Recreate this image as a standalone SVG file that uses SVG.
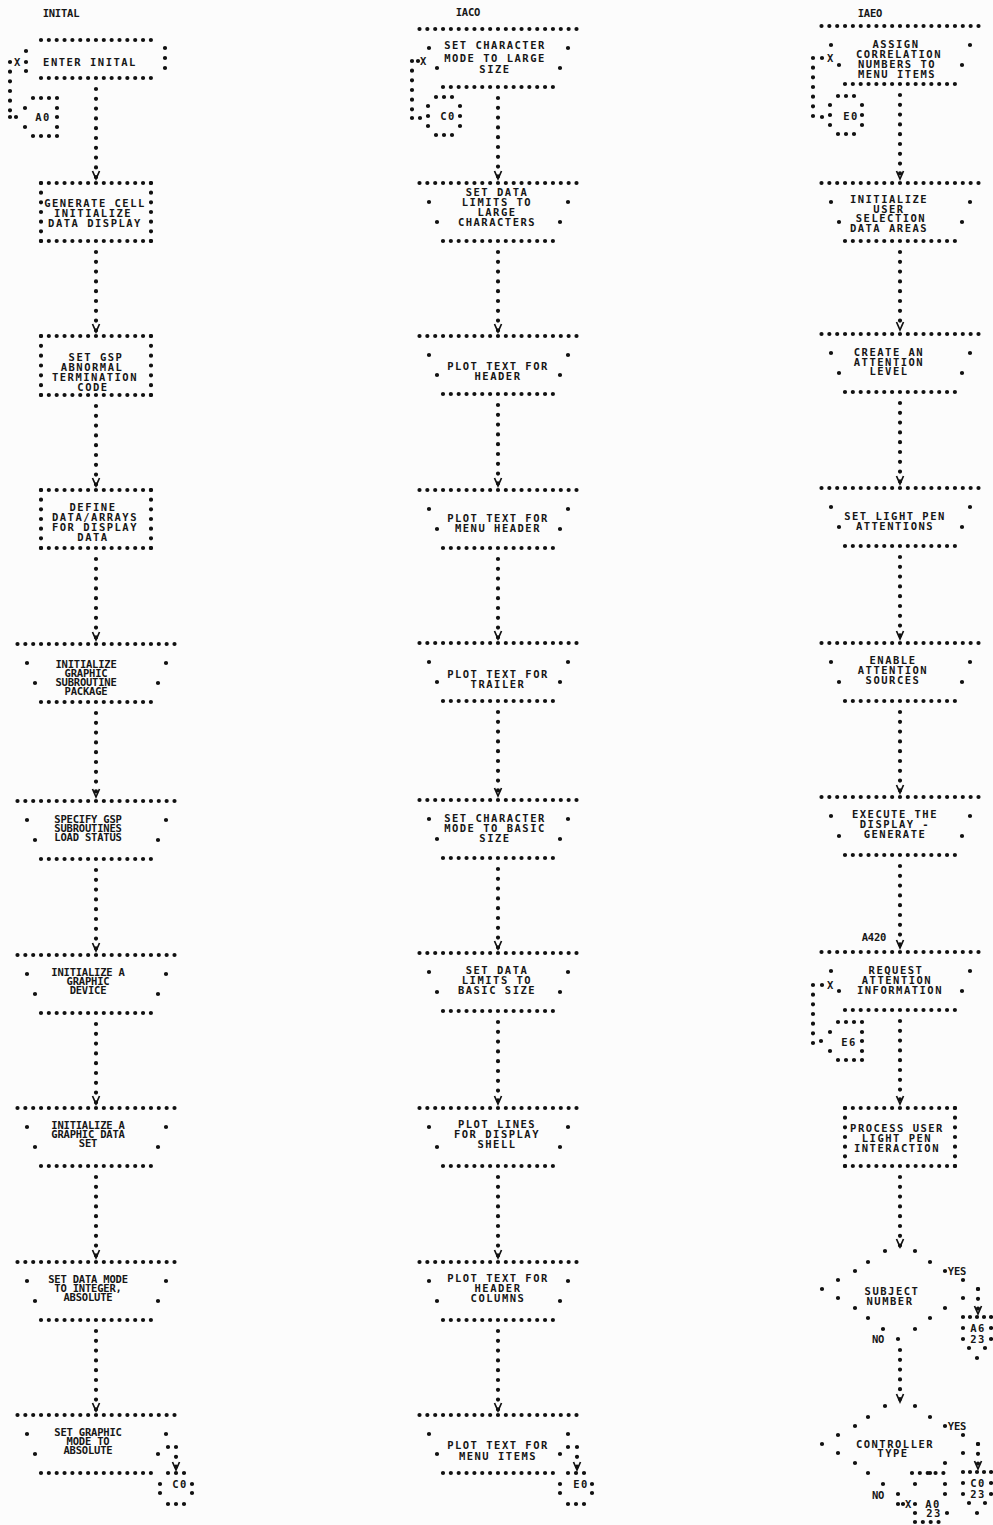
<svg xmlns="http://www.w3.org/2000/svg" width="993" height="1525" viewBox="0 0 993 1525">
<style>
.t{font-family:"DejaVu Sans Mono","Liberation Mono",monospace;font-size:10.5px;font-weight:bold;letter-spacing:1.5px;fill:#161616;text-anchor:middle;dominant-baseline:central}
.n{font-family:"DejaVu Sans Mono","Liberation Mono",monospace;font-size:10.5px;font-weight:bold;letter-spacing:-0.2px;fill:#161616;text-anchor:middle;dominant-baseline:central}
.h{fill:none;stroke:#111;stroke-width:4.2;stroke-linecap:round;stroke-dasharray:0 7.85}
.s{fill:none;stroke:#111;stroke-width:4.2;stroke-linecap:round;stroke-dasharray:0 9.667}
.p{fill:none;stroke:#111;stroke-width:4.2;stroke-linecap:round}
.v{fill:none;stroke:#111;stroke-width:4.2;stroke-linecap:round;stroke-dasharray:0 9.8;marker-end:url(#arr)}
</style>
<defs>
<marker id="arr" markerUnits="userSpaceOnUse" markerWidth="10" markerHeight="10" refX="8" refY="4" orient="auto" overflow="visible"><path d="M0,0.5L8,4L0,7.5" fill="none" stroke="#111" stroke-width="1.7" stroke-dasharray="none"/></marker>
<g id="trap"><path class="h" d="M-78.5,0h157.1M-55,58h110.1"/><path class="p" d="M-69,19h.01M-61,39h.01M70,19h.01M62,39h.01"/></g>
<g id="rect"><path class="h" d="M-55,0h110.1M-55,58h110.1"/><path class="s" d="M-55,0v58.1M55,0v58.1"/></g>
<g id="rect59"><path class="h" d="M-55,0h110.1M-55,59h110.1"/><path class="s" d="M-55,0v59.1M55,0v59.1" style="stroke-dasharray:0 9.833"/></g>
<path id="cx" class="p" d="M-8,-15.5h.01M0,-15.5h.01M8,-15.5h.01M-16,-4.5h.01M16,-4.5h.01M-16,4.5h.01M16,4.5h.01M-8,15.5h.01M0,15.5h.01M8,15.5h.01"/>
<path id="ce" class="p" d="M-8,-19h.01M0,-19h.01M8,-19h.01M-16,-10h.01M16,-10h.01M-16,0h.01M16,0h.01M-16,10h.01M16,10h.01M-8,19h.01M0,19h.01M8,19h.01"/>
<path id="cp" class="p" d="M-7,-19h.01M1,-19h.01M9,-19h.01M17,-19h.01M-15,-9h.01M-24,0h.01M-15,10h.01M17,-9h.01M17,0h.01M17,10h.01M-7,19h.01M1,19h.01M9,19h.01M17,19h.01"/>
<path id="cq" class="p" d="M-14,0h.01M-7,0h.01M0,0h.01M7,0h.01M14,0h.01M-14,11h.01M14,11h.01M-14,22h.01M14,22h.01M-8,31h.01M8,31h.01M0,41h.01"/>
<path id="dia" class="p" d="M-15,-38h.01M15,-38h.01M-32,-27h.01M30,-27h.01M-45,-18h.01M45,-18h.01M-62,-9h.01M63,-9h.01M-78,0h.01M78,0h.01M-62,9h.01M63,9h.01M-45,19h.01M45,19h.01M-32,29h.01M30,29h.01M-17,40h.01M15,40h.01M-2,50h.01"/>
</defs>
<rect width="993" height="1525" fill="#fcfcfc"/>

<g id="titles">
<text class="n" x="61" y="13">INITAL</text>
<text class="n" x="468" y="12">IACO</text>
<text class="n" x="870" y="13">IAEO</text>
</g>

<!-- Column 1 -->
<g id="n-enter-inital">
<path class="h" d="M41,40h110.1M41,78h110.1"/>
<path class="p" d="M26,51h.01M26,62h.01M26,71h.01M165,48h.01M165,58h.01M165,68h.01"/>
<text class="t" x="90" y="62">ENTER INITAL</text>
</g>
<g id="n-generate-cell"><use href="#rect" x="96" y="183"/>
<text class="t" x="95" y="203">GENERATE CELL</text><text class="t" x="93" y="213">INITIALIZE</text><text class="t" x="95" y="223">DATA DISPLAY</text></g>
<g id="n-set-gsp"><use href="#rect59" x="96" y="336"/>
<text class="t" x="96" y="357">SET GSP</text><text class="t" x="92" y="367">ABNORMAL</text><text class="t" x="95" y="377">TERMINATION</text><text class="t" x="93" y="386.5">CODE</text></g>
<g id="n-define-data"><use href="#rect" x="96" y="490"/>
<text class="t" x="93" y="507">DEFINE</text><text class="t" x="95" y="517">DATA/ARRAYS</text><text class="t" x="95" y="527">FOR DISPLAY</text><text class="t" x="93" y="536.5">DATA</text></g>
<g id="n-init-gsp"><use href="#trap" x="96" y="644"/>
<text class="n" x="86" y="664">INITIALIZE</text><text class="n" x="86" y="673">GRAPHIC</text><text class="n" x="86" y="682">SUBROUTINE</text><text class="n" x="86" y="691">PACKAGE</text></g>
<g id="n-specify-gsp"><use href="#trap" x="96" y="801"/>
<text class="n" x="88" y="819">SPECIFY GSP</text><text class="n" x="88" y="828">SUBROUTINES</text><text class="n" x="88" y="837">LOAD STATUS</text></g>
<g id="n-init-device"><use href="#trap" x="96" y="955"/>
<text class="n" x="88" y="972">INITIALIZE A</text><text class="n" x="88" y="981">GRAPHIC</text><text class="n" x="88" y="990">DEVICE</text></g>
<g id="n-init-dataset"><use href="#trap" x="96" y="1108"/>
<text class="n" x="88" y="1125">INITIALIZE A</text><text class="n" x="88" y="1134">GRAPHIC DATA</text><text class="n" x="88" y="1143">SET</text></g>
<g id="n-set-data-mode"><use href="#trap" x="96" y="1262"/>
<text class="n" x="88" y="1279">SET DATA MODE</text><text class="n" x="88" y="1288">TO INTEGER,</text><text class="n" x="88" y="1297">ABSOLUTE</text></g>
<g id="n-set-graphic-mode"><use href="#trap" x="96" y="1415"/>
<text class="n" x="88" y="1432">SET GRAPHIC</text><text class="n" x="88" y="1441">MODE TO</text><text class="n" x="88" y="1450">ABSOLUTE</text></g>
<g id="k-a0-in"><use href="#cp" x="40" y="117"/><text class="t" x="43" y="117">A0</text></g>
<g id="k-c0-out"><use href="#cx" x="176" y="1488.5"/><text class="t" x="180" y="1484">C0</text></g>

<!-- Column 2 -->
<g id="n-char-large"><use href="#trap" x="498" y="29"/>
<text class="t" x="495" y="45">SET CHARACTER</text><text class="t" x="495" y="58">MODE TO LARGE</text><text class="t" x="495" y="69">SIZE</text></g>
<g id="n-limits-large"><use href="#trap" x="498" y="183"/>
<text class="t" x="497" y="192">SET DATA</text><text class="t" x="497" y="202">LIMITS TO</text><text class="t" x="497" y="212">LARGE</text><text class="t" x="497" y="222">CHARACTERS</text></g>
<g id="n-text-header"><use href="#trap" x="498" y="336"/>
<text class="t" x="498" y="366">PLOT TEXT FOR</text><text class="t" x="498" y="376">HEADER</text></g>
<g id="n-text-menu-header"><use href="#trap" x="498" y="490"/>
<text class="t" x="498" y="518">PLOT TEXT FOR</text><text class="t" x="498" y="528">MENU HEADER</text></g>
<g id="n-text-trailer"><use href="#trap" x="498" y="643"/>
<text class="t" x="498" y="674">PLOT TEXT FOR</text><text class="t" x="498" y="684">TRAILER</text></g>
<g id="n-char-basic"><use href="#trap" x="498" y="800"/>
<text class="t" x="495" y="818">SET CHARACTER</text><text class="t" x="495" y="828">MODE TO BASIC</text><text class="t" x="495" y="838">SIZE</text></g>
<g id="n-limits-basic"><use href="#trap" x="498" y="953"/>
<text class="t" x="497" y="970">SET DATA</text><text class="t" x="497" y="980">LIMITS TO</text><text class="t" x="497" y="990">BASIC SIZE</text></g>
<g id="n-plot-lines"><use href="#trap" x="498" y="1108"/>
<text class="t" x="497" y="1124">PLOT LINES</text><text class="t" x="497" y="1134">FOR DISPLAY</text><text class="t" x="497" y="1144">SHELL</text></g>
<g id="n-text-columns"><use href="#trap" x="498" y="1262"/>
<text class="t" x="498" y="1278">PLOT TEXT FOR</text><text class="t" x="498" y="1288">HEADER</text><text class="t" x="498" y="1298">COLUMNS</text></g>
<g id="n-text-menu-items"><use href="#trap" x="498" y="1415"/>
<text class="t" x="498" y="1445">PLOT TEXT FOR</text><text class="t" x="498" y="1456">MENU ITEMS</text></g>
<g id="k-c0-in"><use href="#ce" x="444" y="116"/><text class="t" x="448" y="116">C0</text></g>
<g id="k-e0-out"><use href="#cx" x="576" y="1488.5"/><text class="t" x="581" y="1484">E0</text></g>

<!-- Column 3 -->
<g id="n-assign"><use href="#trap" x="900" y="26"/>
<text class="t" x="896" y="44">ASSIGN</text><text class="t" x="899" y="54">CORRELATION</text><text class="t" x="897" y="64">NUMBERS TO</text><text class="t" x="897" y="74">MENU ITEMS</text></g>
<g id="n-init-user"><use href="#trap" x="900" y="183"/>
<text class="t" x="889" y="199">INITIALIZE</text><text class="t" x="889" y="208.5">USER</text><text class="t" x="891" y="218">SELECTION</text><text class="t" x="889" y="227.5">DATA AREAS</text></g>
<g id="n-create-level"><use href="#trap" x="900" y="334"/>
<text class="t" x="889" y="352">CREATE AN</text><text class="t" x="889" y="361.5">ATTENTION</text><text class="t" x="889" y="371">LEVEL</text></g>
<g id="n-light-pen"><use href="#trap" x="900" y="488"/>
<text class="t" x="895" y="516">SET LIGHT PEN</text><text class="t" x="895" y="526">ATTENTIONS</text></g>
<g id="n-enable"><use href="#trap" x="900" y="643"/>
<text class="t" x="893" y="660">ENABLE</text><text class="t" x="893" y="670">ATTENTION</text><text class="t" x="893" y="680">SOURCES</text></g>
<g id="n-execute"><use href="#trap" x="900" y="797"/>
<text class="t" x="895" y="814">EXECUTE THE</text><text class="t" x="895" y="824">DISPLAY -</text><text class="t" x="895" y="834">GENERATE</text></g>
<g id="n-request"><use href="#trap" x="900" y="952"/>
<text class="t" x="896" y="970">REQUEST</text><text class="t" x="897" y="980">ATTENTION</text><text class="t" x="900" y="990">INFORMATION</text></g>
<g id="n-process"><use href="#rect" x="900" y="1108"/>
<text class="t" x="897" y="1128">PROCESS USER</text><text class="t" x="897" y="1138">LIGHT PEN</text><text class="t" x="897" y="1148">INTERACTION</text></g>
<g id="n-subject"><use href="#dia" x="900" y="1289"/>
<text class="t" x="892" y="1291">SUBJECT</text><text class="t" x="890" y="1301">NUMBER</text>
<text class="n" x="957" y="1271">YES</text><text class="n" x="878" y="1339">NO</text></g>
<g id="n-controller"><use href="#dia" x="900" y="1444"/>
<text class="t" x="895" y="1444">CONTROLLER</text><text class="t" x="893" y="1453">TYPE</text>
<text class="n" x="957" y="1426">YES</text><text class="n" x="878" y="1495">NO</text></g>
<g id="k-e0-in"><use href="#ce" x="846" y="115"/><text class="t" x="851" y="116">E0</text></g>
<g id="k-e6-in"><use href="#cp" x="845" y="1041"/><text class="t" x="849" y="1042">E6</text></g>
<g id="k-a6-23"><use href="#cq" x="977" y="1317"/><text class="t" x="978" y="1328">A6</text><text class="t" x="978" y="1339">23</text></g>
<g id="k-c0-23"><use href="#cq" x="977" y="1472"/><text class="t" x="978" y="1483">C0</text><text class="t" x="978" y="1494">23</text></g>
<g id="k-a0-23"><path class="h" d="M912,1473h31.5M915,1522h23.6"/><path class="p" d="M945,1484h.01M945,1494h.01M915,1504h.01M915,1513h.01M947,1513h.01"/><text class="t" x="933" y="1504">A0</text><text class="t" x="934" y="1513">23</text></g>
<g id="label-a420"><text class="n" x="874" y="937">A420</text></g>

<g id="connectors">
<path class="v" d="M96,89V179"/><path class="v" d="M96,252V332"/><path class="v" d="M96,406V486"/><path class="v" d="M96,559V640"/><path class="v" d="M96,713V797"/><path class="v" d="M96,870V951"/><path class="v" d="M96,1024V1104"/><path class="v" d="M96,1177V1258"/><path class="v" d="M96,1331V1411"/>
<path class="v" d="M498,98V179"/><path class="v" d="M498,252V332"/><path class="v" d="M498,405V486"/><path class="v" d="M498,559V639"/><path class="v" d="M498,712V796"/><path class="v" d="M498,869V949"/><path class="v" d="M498,1022V1104"/><path class="v" d="M498,1177V1258"/><path class="v" d="M498,1331V1411"/>
<path class="v" d="M900,95V179"/><path class="v" d="M900,252V330"/><path class="v" d="M900,403V484"/><path class="v" d="M900,557V639"/><path class="v" d="M900,712V793"/><path class="v" d="M900,866V948"/><path class="v" d="M900,1021V1104"/><path class="v" d="M900,1177V1247"/><path class="v" d="M900,1350V1402"/>
<path class="s" d="M10,62v55.1M412,61v57.1M813,58v59.1M813,985v58.1"/>
<path class="p" d="M10,117h.01M412,118h.01M420,118h.01M418,61h.01M822,58h.01M822,117h.01M822,985h.01M168,1447h.01M568,1447h.01M898,1504h.01M903,1504h.01"/>
<path class="v" d="M176,1447V1470"/><path class="v" d="M577,1447V1470"/><path class="v" d="M978,1289V1314"/><path class="v" d="M978,1444V1469"/>
<text class="t" x="18" y="62">X</text>
<text class="t" x="424" y="61">X</text>
<text class="t" x="831" y="58">X</text>
<text class="t" x="831" y="985">X</text>
<text class="t" x="909" y="1504">X</text>
</g>
</svg>
